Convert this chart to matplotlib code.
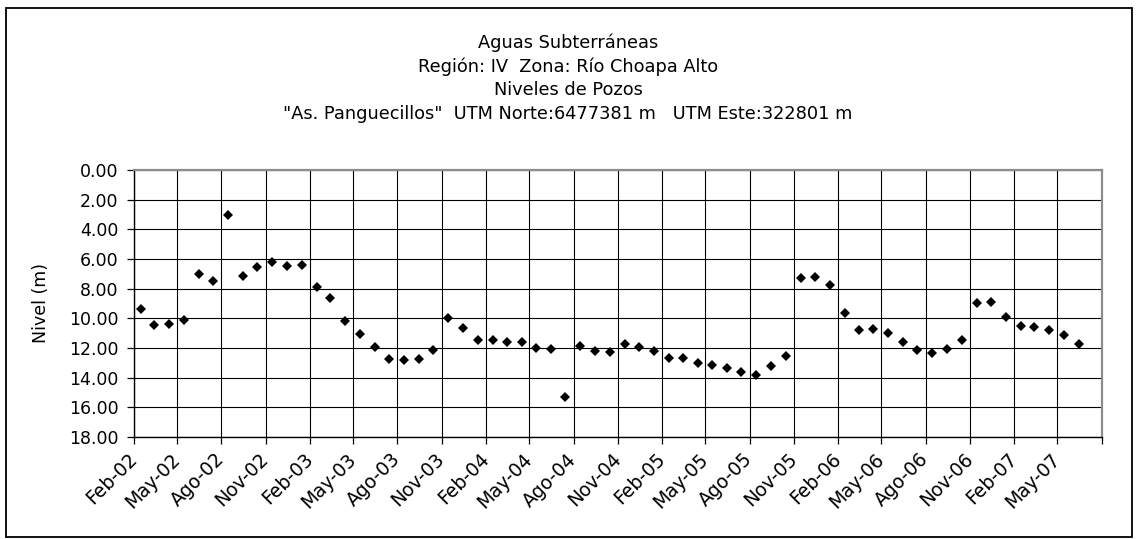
import matplotlib
matplotlib.use("Agg")
import matplotlib.pyplot as plt
from matplotlib.patches import Rectangle
import pandas as pd

# Monthly well levels (depth below ground, m), Feb-2002 .. Jun-2007
first_month = "2002-02-01"
nivel_m = [9.34, 10.42, 10.35, 10.13, 7.02, 7.47, 3.04, 7.13, 6.57, 6.23, 6.46, 6.41,
           7.88, 8.60, 10.15, 11.03, 11.93, 12.71, 12.78, 12.71, 12.13, 10.01, 10.64,
           11.43, 11.43, 11.57, 11.59, 11.99, 12.04, 15.28, 11.86, 12.22, 12.26, 11.75,
           11.93, 12.22, 12.65, 12.65, 12.98, 13.12, 13.32, 13.59, 13.82, 13.19, 12.51,
           7.27, 7.20, 7.72, 9.63, 10.76, 10.71, 10.98, 11.59, 12.11, 12.31, 12.04, 11.43,
           8.96, 8.89, 9.92, 10.55, 10.58, 10.82, 11.14, 11.70]

tick_labels = ["Feb-02", "May-02", "Ago-02", "Nov-02", "Feb-03", "May-03", "Ago-03",
               "Nov-03", "Feb-04", "May-04", "Ago-04", "Nov-04", "Feb-05", "May-05",
               "Ago-05", "Nov-05", "Feb-06", "May-06", "Ago-06", "Nov-06", "Feb-07",
               "May-07", ""]
y_ticks = [0, 2, 4, 6, 8, 10, 12, 14, 16, 18]

title_lines = ["Aguas Subterráneas",
               "Región: IV  Zona: Río Choapa Alto",
               "Niveles de Pozos",
               "\"As. Panguecillos\"  UTM Norte:6477381 m   UTM Este:322801 m"]

plt.rcParams["font.family"] = ["DejaVu Sans"]

W, H = 1136, 539
fig = plt.figure(figsize=(W / 100, H / 100), dpi=100)

# readings taken mid-month
fechas = pd.date_range(first_month, periods=len(nivel_m), freq="MS") + pd.Timedelta(days=14)
tick_dates = pd.date_range("2002-02-01", periods=len(tick_labels), freq="3MS")

ax = fig.add_axes([134 / W, 1 - 437 / H, (1101.5 - 134) / W, (437 - 170) / H])
ax.plot(fechas, nivel_m, linestyle="none", marker="D", markersize=5.6,
        color="black", markeredgewidth=0)

ax.set_xlim(tick_dates[0], tick_dates[-1])
ax.set_ylim(18, 0)
ax.set_xticks(tick_dates)
ax.set_xticklabels(tick_labels, rotation=45, ha="right", va="center",
                   rotation_mode="anchor", fontsize=13.5)
ax.set_yticks(y_ticks)
ax.set_yticklabels([f"{v:.2f}" for v in y_ticks], fontsize=12.5)
ax.tick_params(axis="both", direction="out", length=5, width=0.9, color="black")
ax.tick_params(axis="x", pad=9)
ax.tick_params(axis="y", pad=6)

ax.grid(True, color="black", linewidth=0.8)
ax.set_axisbelow(True)
for side in ("left", "bottom"):
    ax.spines[side].set_color("black")
    ax.spines[side].set_linewidth(1.0)
for side in ("top", "right"):
    ax.spines[side].set_color("#8c8c8c")
    ax.spines[side].set_linewidth(1.6)

fig.text(40.5 / W, 1 - 303 / H, "Nivel (m)", rotation=90, ha="center", va="center",
         fontsize=12.5)

for i, line in enumerate(title_lines):
    fig.text(568 / W, 1 - (43 + 23.5 * i) / H, line, ha="center", va="center",
             fontsize=12.8)

fig.add_artist(Rectangle((6 / W, 2 / H), 1126 / W, 529 / H, transform=fig.transFigure,
                         fill=False, edgecolor="black", linewidth=1.3))

fig.savefig("out.png", dpi=100, facecolor="white")
